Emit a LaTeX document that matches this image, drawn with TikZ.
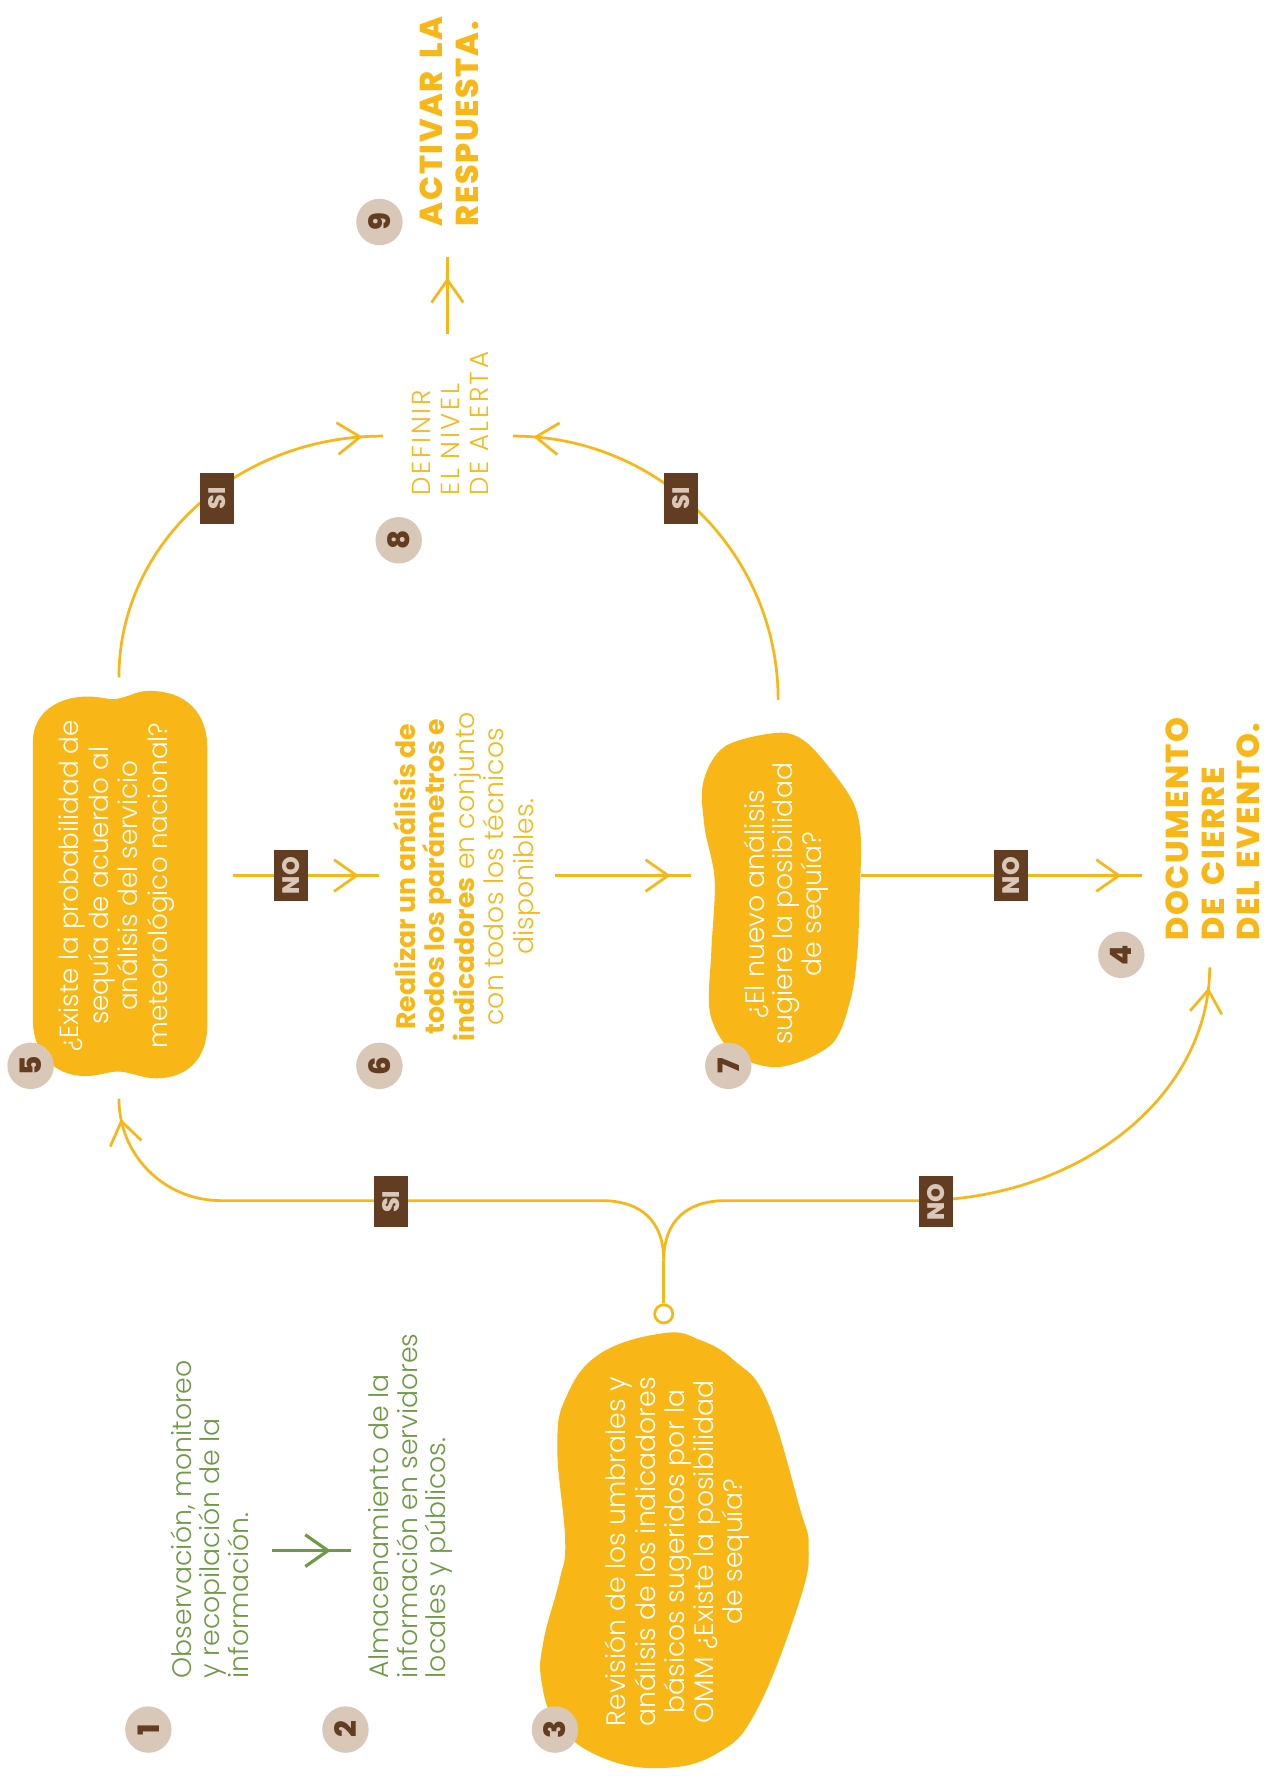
\documentclass[tikz,border=0pt]{standalone}
\usepackage{fontspec}
\setmainfont{Poppins}[UprightFont=* Light, BoldFont=* Bold]
\newfontfamily\spaced{Poppins}[UprightFont=* Light, LetterSpace=10]
\newfontfamily\heavy{Poppins}[UprightFont=* ExtraBold, LetterSpace=5, WordSpace=1.7]
\newfontfamily\heavynum{Poppins}[UprightFont=* ExtraBold]
\usetikzlibrary{arrows.meta,decorations.markings}
\definecolor{ylw}{HTML}{F9B617}
\definecolor{brn}{HTML}{623D22}
\definecolor{tanc}{HTML}{D9C7B8}
\definecolor{grn}{HTML}{6E9A44}
\newcommand{\fsz}[2]{\fontsize{#1}{#2}\selectfont}
\begin{document}
\begin{tikzpicture}[x=0.5pt,y=-0.5pt,
  num/.style={circle, fill=tanc, minimum size=20.5pt, inner sep=0pt, text=brn,
    font=\heavynum\fsz{13}{13}, rotate=90},
  lbl/.style={fill=brn, text=tanc, font=\heavynum\fsz{10.5}{10.5}, rotate=90,
    minimum width=22.5pt, minimum height=15pt, inner sep=0pt},
  flow/.style={color=ylw, draw, line width=1.2pt},
  gflow/.style={color=grn, draw, line width=1.4pt},
  tipped/.style={postaction={decorate}, decoration={markings,
    mark=at position -9pt with {\arrow{Straight Barb[length=10pt,width=14pt]}}}},
  vtext/.style={rotate=90, inner sep=0pt},
]
\useasboundingbox (0,0) rectangle (1125,1568);

% ---------- shapes ----------
% blob 3
\fill[ylw] plot[smooth cycle, tension=0.7] coordinates {
  (586,1177) (618,1183) (648,1201) (677,1236) (706,1331) (714,1366) (706,1413)
  (668,1510) (633,1548) (583,1561) (530,1551) (492,1522) (478,1484) (480,1448)
  (494,1395) (499,1360) (492,1278) (500,1233) (530,1195)};
% box 5
\fill[ylw] (29,900) -- (29,655) .. controls (29,630) and (50,615) .. (77,615)
  .. controls (90,615) and (95,618) .. (103,617) .. controls (115,615) and (120,610) .. (132,610)
  .. controls (165,610) and (183,630) .. (183,660) -- (183,905)
  .. controls (183,935) and (165,952) .. (138,952) .. controls (125,952) and (118,947) .. (105,946)
  .. controls (95,946) and (88,950) .. (75,950) .. controls (48,950) and (29,930) .. (29,900) -- cycle;
% blob 7
\fill[ylw] plot[smooth cycle, tension=0.55] coordinates {
  (686,647) (710,654) (734,680) (754,710) (760,740) (759,790) (757,840) (751,882) (734,922)
  (688,942) (648,930) (627,895) (628,840) (631,777) (622,730) (621,690) (640,659)};

% ---------- texts ----------
\node[vtext, anchor=north west, align=left, text=grn, font=\fsz{11.8}{12.6}] (t1) at (150,1482)
  {Observación, monitoreo\\y recopilación de la\\información.};
\node[vtext, anchor=north west, align=left, text=grn, font=\fsz{11.8}{12.6}] (t2) at (325,1482)
  {Almacenamiento de la\\información en servidores\\locales y públicos.};
\node[vtext, align=center, text=white, font=\fsz{11.8}{12.9}] (t3) at (598,1370)
  {Revisión de los umbrales y\\análisis de los indicadores\\básicos sugeridos por la\\OMM ¿Existe la posibilidad\\de sequía?};
\node[vtext, align=center, text=white, font=\fsz{11.6}{13.1}] (t5) at (103,782)
  {¿Existe la probabilidad de\\sequía de acuerdo al\\análisis del servicio\\meteorológico nacional?};
\node[vtext, align=center, text=ylw, font=\fsz{11.8}{13}] (t6) at (412,774)
  {{\bfseries Realizar un análisis de}\\{\bfseries todos los parámetros e}\\{\bfseries indicadores} en conjunto\\con todos los técnicos\\disponibles.};
\node[vtext, align=center, text=white, font=\fsz{11.8}{12.75}] (t7) at (694,798)
  {¿El nuevo análisis\\sugiere la posibilidad\\de sequía?};
\node[vtext, anchor=north west, align=left, text=ylw, font=\heavy\fsz{14}{15.7}] (t4) at (1029,831)
  {DOCUMENTO\\DE CIERRE\\DEL EVENTO.};
\node[vtext, anchor=north west, align=left, text=ylw, font=\heavy\fsz{14}{16}] (t9) at (370,200)
  {ACTIVAR LA\\RESPUESTA.};
\node[vtext, anchor=north west, align=left, text=ylw, font=\spaced\fsz{11.5}{12.75}] (t8) at (364,438)
  {DEFINIR\\EL NIVEL\\DE ALERTA};

% ---------- connectors ----------
% 1 -> 2
\coordinate (g1) at (240,1369); \coordinate (g2) at (310,1369);
\draw[gflow,tipped] (g1) -- (g2);
% 8 -> 9
\coordinate (u1) at (395,295); \coordinate (u2) at (395,227);
\draw[flow,tipped] (u1) -- (u2);
% 5 -> 6
\coordinate (h1s) at (206,773); \coordinate (h1e) at (335,773);
\draw[flow,tipped] (h1s) -- (h1e);
% 6 -> 7
\coordinate (h2s) at (490,773); \coordinate (h2e) at (610,773);
\draw[flow,tipped] (h2s) -- (h2e);
% 7 -> 4
\coordinate (h3s) at (760,773); \coordinate (h3e) at (1008,773);
\draw[flow,tipped] (h3s) -- (h3e);
% 5 -> 8 (arc)
\coordinate (a1s) at (105,598); \coordinate (a1e) at (338,385);
\draw[flow,tipped] (a1s) .. controls (105,480) and (209,385) .. (a1e);
% 7 -> 8 (arc)
\coordinate (a2s) at (687,618); \coordinate (a2e) at (453,385);
\draw[flow,tipped] (a2s) .. controls (687,489) and (582,385) .. (a2e);
% 3 -> split
\node[circle, draw=ylw, fill=white, line width=1.2pt, minimum size=8pt, inner sep=0pt] (jc) at (586,1160) {};
\coordinate (js) at (586,1113);
\coordinate (jl) at (105,970);
\coordinate (jr) at (1068,854);
\draw[flow] (jc.north) -- (js);
\draw[flow,tipped] (js) .. controls (586,1078) and (566,1060) .. (531,1060) -- (195,1060)
  .. controls (145,1060) and (105,1020) .. (jl);
\draw[flow,tipped] (js) .. controls (586,1078) and (606,1060) .. (641,1060) -- (810,1060)
  .. controls (952,1060) and (1068,968) .. (jr);

% ---------- labels ----------
\node[lbl] (l1) at (345,1061) {SI};
\node[lbl] (l2) at (826,1061) {NO};
\node[lbl] (l3) at (257,773) {NO};
\node[lbl] (l4) at (893,773) {NO};
\node[lbl] (l5) at (192,440) {SI};
\node[lbl] (l6) at (601,440) {SI};

% ---------- number circles ----------
\node[num] (n1) at (131,1527) {1};
\node[num] (n2) at (305,1527) {2};
\node[num] (n3) at (490,1527) {3};
\node[num] (n4) at (990,843) {4};
\node[num] (n5) at (27,941) {5};
\node[num] (n6) at (335,941) {6};
\node[num] (n7) at (643,941) {7};
\node[num] (n8) at (352,477) {8};
\node[num] (n9) at (335,196) {9};
\end{tikzpicture}
\end{document}
